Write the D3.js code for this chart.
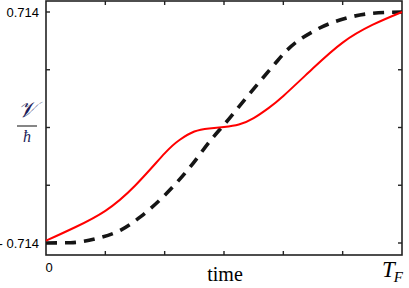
<!DOCTYPE html>
<html>
<head>
<meta charset="utf-8">
<script src="https://cdn.jsdelivr.net/npm/d3@7"></script>
<style>
  body { margin: 0; background: #fff; }
  svg { display: block; }
</style>
</head>
<body>
<svg width="409" height="288"></svg>
<script>
// time in units of T_F, value of V/hbar
const redT = [0, 0.0833, 0.1667, 0.25, 0.3333, 0.375, 0.4167, 0.4583, 0.5, 0.5417, 0.5833, 0.625, 0.6667, 0.75, 0.8333, 0.9167, 1];
const redV = [-0.70, -0.615, -0.515, -0.36, -0.16, -0.077, -0.025, -0.006, 0.003, 0.018, 0.058, 0.12, 0.195, 0.366, 0.525, 0.634, 0.714];

const dashT = [0, 0.069, 0.144, 0.21, 0.266, 0.327, 0.402, 0.467, 0.505, 0.561, 0.640, 0.673, 0.758, 0.842, 0.917, 1];
const dashV = [-0.714, -0.712, -0.685, -0.634, -0.551, -0.433, -0.252, -0.067, 0.03, 0.180, 0.386, 0.469, 0.603, 0.675, 0.706, 0.714];

const yTicks = [-0.714, -0.357, 0, 0.357, 0.714];
const xTicks = d3.range(0, 7).map(i => i / 6);

const svg = d3.select("svg");

const x = d3.scaleLinear().domain([0, 1]).range([46, 402]);
const y = d3.scaleLinear().domain([-0.714, 0.714]).range([243, 12]);

const frameTop = 1, frameBottom = 255;
const tickLen = 4;

// frame
svg.append("rect")
  .attr("x", x(0))
  .attr("y", frameTop)
  .attr("width", x(1) - x(0))
  .attr("height", frameBottom - frameTop)
  .attr("fill", "none")
  .attr("stroke", "#222")
  .attr("stroke-width", 1.6);

const ticks = svg.append("g").attr("stroke", "#222").attr("stroke-width", 1.4);
// inward ticks on all four sides
ticks.selectAll(".tb").data(xTicks.slice(1, -1)).join("line")
  .attr("x1", d => x(d)).attr("x2", d => x(d))
  .attr("y1", frameBottom).attr("y2", frameBottom - tickLen);
ticks.selectAll(".tt").data(xTicks.slice(1, -1)).join("line")
  .attr("x1", d => x(d)).attr("x2", d => x(d))
  .attr("y1", frameTop).attr("y2", frameTop + tickLen);
ticks.selectAll(".tl").data(yTicks).join("line")
  .attr("x1", x(0)).attr("x2", x(0) + tickLen)
  .attr("y1", d => y(d)).attr("y2", d => y(d));
ticks.selectAll(".tr").data(yTicks).join("line")
  .attr("x1", x(1)).attr("x2", x(1) - tickLen)
  .attr("y1", d => y(d)).attr("y2", d => y(d));

const dashLine = d3.line()
  .x(d => x(d[0]))
  .y(d => y(d[1]))
  .curve(d3.curveMonotoneX);

const redLine = d3.line()
  .x(d => x(d[0]))
  .y(d => y(d[1]))
  .curve(d3.curveNatural);

svg.append("path")
  .datum(dashT.map((t, i) => [t, dashV[i]]))
  .attr("fill", "none")
  .attr("stroke", "#151515")
  .attr("stroke-width", 3.6)
  .attr("stroke-dasharray", "11,8")
  .attr("d", dashLine);

svg.append("path")
  .datum(redT.map((t, i) => [t, redV[i]]))
  .attr("fill", "none")
  .attr("stroke", "#ff0000")
  .attr("stroke-width", 2)
  .attr("d", redLine);

// tick labels
const sans = "'Liberation Sans', Arial, sans-serif";
const serif = "'Liberation Serif', 'Times New Roman', serif";

svg.append("text")
  .attr("x", 39).attr("y", y(0.714) + 5)
  .attr("text-anchor", "end")
  .attr("font-family", sans).attr("font-size", 13)
  .text("0.714");
svg.append("text")
  .attr("x", 39).attr("y", y(-0.714) + 5)
  .attr("text-anchor", "end")
  .attr("font-family", sans).attr("font-size", 13)
  .text("- 0.714");
svg.append("text")
  .attr("x", x(0) + 3).attr("y", 272)
  .attr("text-anchor", "middle")
  .attr("font-family", sans).attr("font-size", 13)
  .text("0");

svg.append("text")
  .attr("x", x(0.5) + 1).attr("y", 281)
  .attr("text-anchor", "middle")
  .attr("font-family", serif).attr("font-size", 20)
  .text("time");

const tf = svg.append("text")
  .attr("x", 382).attr("y", 277)
  .attr("font-family", serif).attr("font-style", "italic")
  .attr("font-size", 23);
tf.append("tspan").text("T");
tf.append("tspan").attr("font-size", 15).attr("dy", 5).attr("dx", -1).text("F");

// y label: V / hbar
svg.append("text")
  .attr("x", 27).attr("y", 117)
  .attr("text-anchor", "middle")
  .attr("font-family", serif).attr("font-style", "italic")
  .attr("font-size", 22)
  .attr("fill", "#1c1c58")
  .text("𝒱");
svg.append("line")
  .attr("x1", 17).attr("x2", 37)
  .attr("y1", 126).attr("y2", 126)
  .attr("stroke", "#444").attr("stroke-width", 1.3);
svg.append("text")
  .attr("x", 27).attr("y", 142)
  .attr("text-anchor", "middle")
  .attr("font-family", serif).attr("font-style", "italic")
  .attr("font-size", 16)
  .attr("fill", "#1c1c58")
  .text("ħ");
</script>
</body>
</html>
